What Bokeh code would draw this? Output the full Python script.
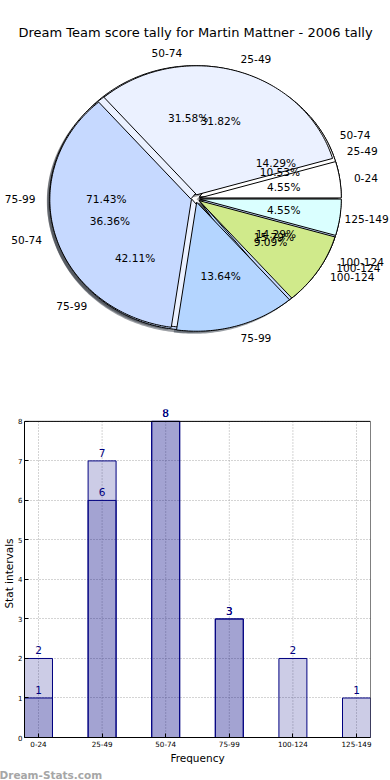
import numpy as np
from bokeh.plotting import figure
from bokeh.layouts import column
from bokeh.models import (ColumnDataSource, LabelSet, Range1d, FixedTicker,
                          Span, Title)
from bokeh.core.properties import value
from bokeh.embed import file_html
from bokeh.resources import INLINE

TITLE = "Dream Team score tally for Martin Mattner - 2006 tally"

# ---- pie data (three pies drawn on top of each other, last on top) ----
pie_b_labels = ["25-49", "50-74", "75-99", "100-124"]
pie_b_values = [2, 6, 8, 3]
pie_a_labels = ["50-74", "75-99", "100-124"]
pie_a_values = [1, 5, 1]
pie_c_labels = ["0-24", "25-49", "50-74", "75-99", "100-124", "125-149"]
pie_c_values = [1, 7, 8, 3, 2, 1]

slice_colors = ["#FFFFFF", "#EBF1FF", "#C6D9FF", "#B4D5FF", "#D0EA8B", "#DAFFFF"]

# ---- bar data ----
bar_categories = ["0-24", "25-49", "50-74", "75-99", "100-124", "125-149"]
bar_series_1 = [1, 7, 8, 3, 2, 1]
bar_series_2 = [2, 6, 8, 3, 0, 0]
y_ticks = [0, 1, 2, 3, 4, 5, 6, 7, 8]

FONT = value("DejaVu Sans")
W = 390

# ================= PIE FIGURE =================
H1 = 400
TOP1 = 42                      # border above the pie frame (holds the title)
RX, RY = 141.6, 129.0          # pixels per data unit
CX, CY = 195.0, 198.0          # position of pie centre
x0 = -CX / RX
x1 = (W - CX) / RX
y1 = (CY - TOP1) / RY
y0 = -(H1 - CY) / RY

p1 = figure(width=W, height=H1, output_backend="svg", toolbar_location=None,
            x_range=Range1d(x0, x1), y_range=Range1d(y0, y1),
            x_axis_location=None, y_axis_location=None,
            min_border_left=0, min_border_right=0, min_border_bottom=0,
            min_border_top=TOP1, title=TITLE)
p1.frame_align = False
p1.grid.visible = False
p1.outline_line_color = None
p1.title.align = "center"
p1.title.standoff = 6
p1.title.text_font = "DejaVu Sans"
p1.title.text_font_size = "13px"
p1.title.text_font_style = "normal"
p1.title.text_color = "#000000"

EXPLODE = 0.03
SHADOW = -0.02
LBL_PX = 10.6
LBL_SIZE = "%.1fpx" % LBL_PX


def darker(c, f=0.3):
    c = c.lstrip("#")
    r, g, b = (int(c[i:i + 2], 16) for i in (0, 2, 4))
    return "#%02x%02x%02x" % (int(r * f), int(g * f), int(b * f))


pies = [(pie_b_labels, pie_b_values), (pie_a_labels, pie_a_values),
        (pie_c_labels, pie_c_values)]

wedges = []   # (xs, ys, color)
texts_l = dict(x=[], y=[], t=[])
texts_r = dict(x=[], y=[], t=[])
pcts = dict(x=[], y=[], t=[])
for labels, vals in pies:
    v = np.asarray(vals, dtype=float)
    frac = v / v.sum()
    edges = np.concatenate([[0.0], np.cumsum(frac)]) * 2 * np.pi
    for i, lab in enumerate(labels):
        a0, a1 = edges[i], edges[i + 1]
        mid = 0.5 * (a0 + a1)
        ox, oy = EXPLODE * np.cos(mid), EXPLODE * np.sin(mid)
        t = np.linspace(a0, a1, max(3, int(np.degrees(a1 - a0)) + 2))
        xs = np.concatenate([[ox], ox + np.cos(t), [ox]])
        ys = np.concatenate([[oy], oy + np.sin(t), [oy]])
        wedges.append((xs, ys, slice_colors[i]))
        lx = ox + 1.1 * np.cos(mid)
        ly = oy + 1.1 * np.sin(mid)
        if lx > 0:
            # keep the label inside the picture
            est_w = 0.6 * len(lab) * LBL_PX / RX
            lx = min(lx, x1 - est_w - 1.5 / RX)
            d = texts_l
        else:
            d = texts_r
        d["x"].append(lx); d["y"].append(ly); d["t"].append(lab)
        pcts["x"].append(ox + 0.6 * np.cos(mid))
        pcts["y"].append(oy + 0.6 * np.sin(mid))
        pcts["t"].append("%.2f%%" % (100 * frac[i]))

# shadows (below every wedge)
p1.patches(xs=[list(w[0] + SHADOW) for w in wedges],
           ys=[list(w[1] + SHADOW) for w in wedges],
           fill_color=[darker(w[2]) for w in wedges], fill_alpha=0.5,
           line_color=None)
# wedges
p1.patches(xs=[list(w[0]) for w in wedges], ys=[list(w[1]) for w in wedges],
           fill_color=[w[2] for w in wedges], line_color="black",
           line_width=1, line_join="miter")

p1.text(x=texts_l["x"], y=texts_l["y"], text=texts_l["t"], text_align="left",
        text_baseline="middle", text_font=FONT, text_font_size=LBL_SIZE,
        text_color="#000000")
p1.text(x=texts_r["x"], y=texts_r["y"], text=texts_r["t"], text_align="right",
        text_baseline="middle", text_font=FONT, text_font_size=LBL_SIZE,
        text_color="#000000")
p1.text(x=pcts["x"], y=pcts["y"], text=pcts["t"], text_align="center",
        text_baseline="middle", text_font=FONT, text_font_size=LBL_SIZE,
        text_color="#000000")

# ================= BAR FIGURE =================
H2 = 380
BW = 0.44
n = len(bar_categories)
xpos = np.arange(n)
YMAX = max(y_ticks)
PX_PER_UNIT = 39.9
HEADROOM = 12 / PX_PER_UNIT     # room above the frame for the top value label
XLO, XHI = -BW / 2, n - 1 + BW / 2

p2 = figure(width=W, height=H2, output_backend="svg", toolbar_location=None,
            x_range=Range1d(XLO, XHI),
            y_range=Range1d(0, YMAX + HEADROOM),
            min_border_top=9, min_border_bottom=40, min_border_left=19,
            min_border_right=20)
p2.frame_align = False
p2.outline_line_color = None
p2.xgrid.visible = False

# dotted vertical grid lines at the categories (only up to the top of the box)
p2.segment(x0=xpos, y0=0, x1=xpos, y1=YMAX, line_color="#a8a8a8",
           line_dash="1 2", line_width=1)

p2.vbar(x=xpos, top=bar_series_1, width=BW, fill_color="navy", fill_alpha=0.2,
        line_color="navy", line_width=1)
p2.vbar(x=xpos, top=bar_series_2, width=BW, fill_color="navy", fill_alpha=0.2,
        line_color="navy", line_width=1)

lx, ly, lt = [], [], []
for series in (bar_series_1, bar_series_2):
    for i, val in enumerate(series):
        if val > 0:
            lx.append(float(xpos[i])); ly.append(val); lt.append(str(val))
p2.add_layout(LabelSet(x="x", y="y", text="t",
                       source=ColumnDataSource(dict(x=lx, y=ly, t=lt)),
                       text_align="center", text_baseline="bottom", y_offset=4,
                       text_font=FONT, text_font_size="10.5px",
                       text_color="navy"))

# box: top and right edges at the top of the value scale
p2.add_layout(Span(location=YMAX, dimension="width", line_color="black",
                   line_width=1))
p2.segment(x0=[XHI], y0=[0], x1=[XHI], y1=[YMAX], line_color="black",
           line_width=1)

p2.xaxis.ticker = FixedTicker(ticks=list(range(n)))
p2.xaxis.major_label_overrides = {i: c for i, c in enumerate(bar_categories)}
p2.yaxis.ticker = FixedTicker(ticks=y_ticks)
p2.yaxis.bounds = (0, YMAX)

for ax in (p2.xaxis[0], p2.yaxis[0]):
    ax.major_tick_in = 4
    ax.major_tick_out = 0
    ax.minor_tick_line_color = None
    ax.axis_line_color = "black"
    ax.major_tick_line_color = "black"
    ax.major_label_text_font = "DejaVu Sans"
    ax.major_label_text_color = "#000000"
    ax.axis_label_text_font = "DejaVu Sans"
    ax.axis_label_text_font_style = "normal"
    ax.axis_label_text_font_size = "10.5px"
    ax.axis_label_text_color = "#000000"

p2.xaxis[0].axis_label = "Frequency"
p2.yaxis[0].axis_label = "Stat intervals"
p2.xaxis[0].major_label_text_font_size = "7.2px"
p2.yaxis[0].major_label_text_font_size = "7px"
p2.xaxis[0].major_label_standoff = 3
p2.yaxis[0].major_label_standoff = 2
p2.xaxis[0].axis_label_standoff = 2
p2.yaxis[0].axis_label_standoff = 0

p2.ygrid.ticker = FixedTicker(ticks=y_ticks)
p2.ygrid.grid_line_color = "#a8a8a8"
p2.ygrid.grid_line_dash = "1 2"
p2.ygrid.grid_line_width = 1

p2.add_layout(Title(text="Dream-Stats.com", align="left", offset=-25,
                    standoff=0, text_font="DejaVu Sans",
                    text_font_size="10.5px", text_font_style="bold",
                    text_color="#a6a6a6"), "below")

layout = column(p1, p2)
open("out.html", "w").write(file_html(layout, INLINE))
